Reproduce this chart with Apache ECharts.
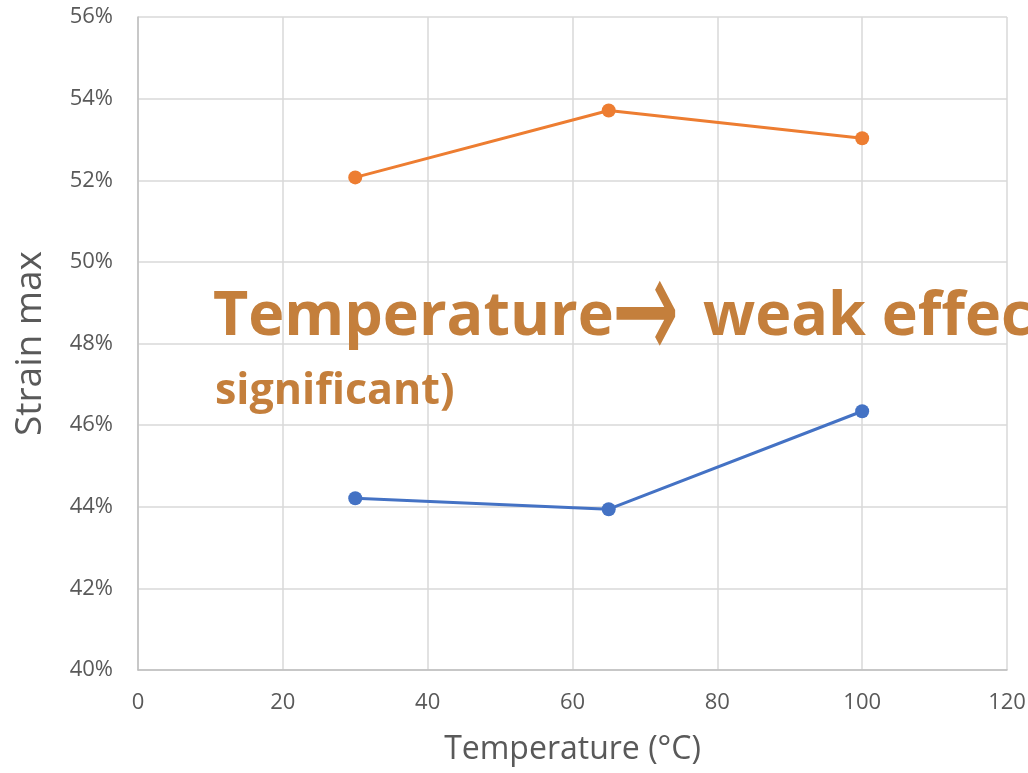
<!DOCTYPE html>
<html>
<head>
<meta charset="utf-8">
<script src="https://cdn.jsdelivr.net/npm/echarts@6/dist/echarts.min.js"></script>
<style>
html,body{margin:0;padding:0;background:#fff;}
#chart{width:1028px;height:773px;}
</style>
</head>
<body>
<div id="chart"></div>
<script>
const temperatures = [30, 65, 100];
const strainOrange = [52.07, 53.71, 53.03];
const strainBlue = [44.21, 43.94, 46.34];
const xTicks = {min: 0, max: 120, interval: 20};
const yTicks = {min: 40, max: 56, interval: 2};
const annotationWord1 = 'Temperature';
const annotationArrow = '\u2192';
const annotationRest = 'weak effect (not';
const annotationLine2 = 'significant)';

const pair = (xs, ys) => xs.map((x, i) => [x, ys[i]]);
const labelFont = '"Open Sans", "Noto Sans", sans-serif';
const noteColor = '#C47F3C';
const noteFont = 'bold 61px "Open Sans", "DejaVu Sans", sans-serif';
const chart = echarts.init(document.getElementById('chart'), null, {renderer: 'canvas'});
chart.setOption({
  animation: false,
  backgroundColor: '#ffffff',
  grid: {left: 138, right: 21, top: 17, bottom: 103, containLabel: false, outerBoundsMode: 'none'},
  xAxis: {
    type: 'value', min: xTicks.min, max: xTicks.max, interval: xTicks.interval,
    name: 'Temperature (°C)', nameLocation: 'middle', nameGap: 64,
    nameTextStyle: {fontFamily: labelFont, fontSize: 32, color: '#595959'},
    axisLine: {show: true, lineStyle: {color: '#bfbfbf', width: 1.5}},
    axisTick: {show: false},
    axisLabel: {fontFamily: labelFont, fontSize: 22, color: '#595959', margin: 22},
    splitLine: {show: true, lineStyle: {color: '#d9d9d9', width: 1.5}}
  },
  yAxis: {
    type: 'value', min: yTicks.min, max: yTicks.max, interval: yTicks.interval,
    name: 'Strain max', nameLocation: 'middle', nameGap: 89, nameRotate: 90,
    nameTextStyle: {fontFamily: labelFont, fontSize: 37, color: '#595959'},
    axisLine: {show: true, lineStyle: {color: '#bfbfbf', width: 1.5}},
    axisTick: {show: false},
    axisLabel: {fontFamily: labelFont, fontSize: 22, color: '#595959', margin: 25, formatter: '{value}%'},
    splitLine: {show: true, lineStyle: {color: '#d9d9d9', width: 1.5}}
  },
  series: [
    {
      type: 'line', data: pair(temperatures, strainOrange),
      symbol: 'circle', symbolSize: 14,
      lineStyle: {color: '#ED7D31', width: 3}, itemStyle: {color: '#ED7D31'}
    },
    {
      type: 'line', data: pair(temperatures, strainBlue),
      symbol: 'circle', symbolSize: 14,
      lineStyle: {color: '#4472C4', width: 3}, itemStyle: {color: '#4472C4'}
    }
  ],
  graphic: [
    {
      type: 'text', x: 213, y: 348, z: 100,
      style: {text: annotationWord1, fill: noteColor, font: noteFont, verticalAlign: 'bottom'}
    },
    {
      type: 'text', x: 612, y: 322, z: 100, scaleY: 1.9,
      style: {text: annotationArrow, fill: noteColor, font: '80px "DejaVu Sans", sans-serif', verticalAlign: 'middle'}
    },
    {
      type: 'text', x: 703, y: 348, z: 100,
      style: {text: annotationRest, fill: noteColor, font: noteFont, verticalAlign: 'bottom'}
    },
    {
      type: 'text', x: 215, y: 370, z: 100,
      style: {text: annotationLine2, fill: noteColor, font: 'bold 43px "Open Sans", "DejaVu Sans", sans-serif'}
    }
  ]
});
</script>
</body>
</html>
